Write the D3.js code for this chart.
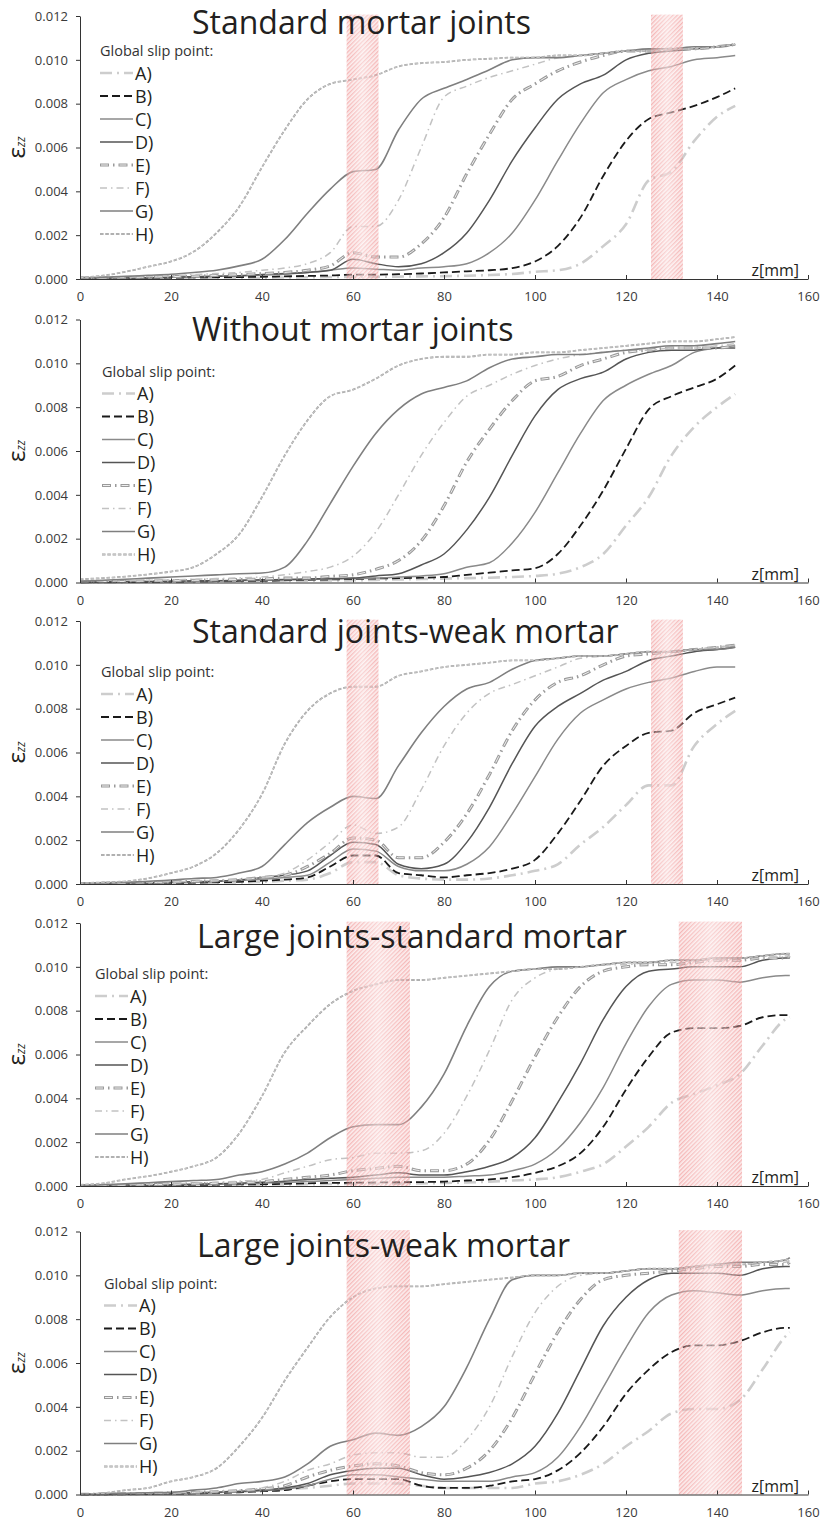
<!DOCTYPE html>
<html><head><meta charset="utf-8">
<script src="https://cdn.jsdelivr.net/npm/d3@7/dist/d3.min.js"></script>
<style>
body{margin:0;background:#fff}
text{font-family:'Open Sans','Noto Sans',sans-serif}
</style>
</head><body>
<svg id="chart" width="823" height="1522"></svg>
<script>
// ---------- data ----------
const zShort = [0,5,10,15,20,25,30,35,40,45,50,55,60,65,70,75,80,85,90,95,100,105,110,115,120,125,130,135,140,144];
const zLong  = [0,5,10,15,20,25,30,35,40,45,50,55,60,65,70,75,80,85,90,95,100,105,110,115,120,125,130,135,140,145,150,155,156];
const seriesNames = ["A)","B)","C)","D)","E)","F)","G)","H)"];
const panelTitles = ["Standard mortar joints","Without mortar joints","Standard joints-weak mortar","Large joints-standard mortar","Large joints-weak mortar"];
const yTickValues = [0,0.002,0.004,0.006,0.008,0.010,0.012];
const xTickValues = [0,20,40,60,80,100,120,140,160];
const jointZones = [
  [[58.6,65.6],[125.5,132.5]],
  [],
  [[58.6,65.6],[125.5,132.5]],
  [[58.6,72.5],[131.6,145.5]],
  [[58.6,72.5],[131.6,145.5]]
];

// Panel 1 - Standard mortar joints
const p1A = [0.00001,0.00002,0.00002,0.00003,0.00003,0.00004,0.00005,0.00005,0.00006,0.00007,0.00008,0.00009,0.0001,0.0001,0.00011,0.00012,0.00013,0.00015,0.00018,0.00023,0.00033,0.0004,0.0007,0.0015,0.0025,0.0045,0.0049,0.0063,0.0074,0.0079];
const p1B = [0.00002,0.00003,0.00004,0.00005,0.00006,0.00007,0.00008,0.00009,0.0001,0.00012,0.00014,0.00016,0.0002,0.0002,0.00022,0.00025,0.0003,0.00035,0.0004,0.0005,0.0008,0.0015,0.0028,0.0047,0.0063,0.0073,0.0076,0.0079,0.0083,0.0087];
const p1C = [0.00003,0.00004,0.00005,0.00006,0.00008,0.0001,0.00012,0.00015,0.00018,0.00022,0.0003,0.0004,0.0005,0.00045,0.0004,0.0005,0.00056,0.0007,0.0012,0.0021,0.0036,0.0054,0.0071,0.0085,0.0091,0.0095,0.0097,0.01,0.0101,0.0102];
const p1D = [0.00003,0.00004,0.00005,0.00006,0.00008,0.0001,0.00012,0.00015,0.0002,0.00025,0.0003,0.0004,0.0009,0.0007,0.00056,0.0007,0.0012,0.0021,0.0036,0.0054,0.0069,0.0082,0.0089,0.0093,0.01,0.0103,0.0104,0.0105,0.0106,0.0107];
const p1E = [0.00004,0.00005,0.00007,0.00009,0.00011,0.00013,0.00016,0.0002,0.00025,0.0003,0.0004,0.0006,0.0012,0.001,0.001,0.0016,0.0028,0.0048,0.0066,0.0082,0.0089,0.0095,0.0099,0.0102,0.0104,0.0104,0.0105,0.0105,0.0106,0.0107];
const p1F = [0.00003,0.00005,0.00008,0.0001,0.00014,0.0002,0.00025,0.0003,0.0004,0.0005,0.0007,0.0012,0.0024,0.0024,0.0036,0.006,0.0083,0.0088,0.0092,0.0095,0.0098,0.0101,0.0102,0.0103,0.0104,0.0104,0.0105,0.0105,0.0106,0.0107];
const p1G = [0.00005,0.00008,0.00012,0.00017,0.00022,0.0003,0.0004,0.0006,0.0009,0.0018,0.003,0.0041,0.0049,0.005,0.0068,0.0082,0.0087,0.0091,0.00955,0.01,0.0101,0.0101,0.0102,0.0103,0.0104,0.0105,0.0105,0.0106,0.0106,0.0107];
const p1H = [0.00006,0.00015,0.00033,0.00056,0.0008,0.00125,0.0021,0.0033,0.0051,0.0068,0.0082,0.0089,0.0091,0.0093,0.0097,0.00985,0.0099,0.01,0.01005,0.0101,0.0101,0.0102,0.0102,0.0103,0.0104,0.0104,0.0105,0.0105,0.0106,0.0107];

// Panel 2 - Without mortar joints
const p2A = [0.00001,0.00001,0.00002,0.00002,0.00003,0.00003,0.00004,0.00005,0.00006,0.00007,0.00008,0.00009,0.0001,0.00012,0.00014,0.00016,0.00018,0.0002,0.00022,0.00025,0.0003,0.0004,0.0007,0.0013,0.0026,0.0039,0.0058,0.0071,0.008,0.0086];
const p2B = [0.00001,0.00002,0.00002,0.00003,0.00004,0.00005,0.00006,0.00007,0.00008,0.0001,0.00012,0.00014,0.00016,0.00018,0.0002,0.00022,0.00025,0.00035,0.00045,0.00055,0.00065,0.0013,0.0026,0.0042,0.0061,0.0079,0.0085,0.0089,0.0093,0.0099];
const p2C = [0.00002,0.00003,0.00004,0.00005,0.00006,0.00007,0.00008,0.00009,0.0001,0.00012,0.00014,0.00016,0.00018,0.0002,0.00025,0.0003,0.0004,0.0007,0.0009,0.0018,0.0032,0.005,0.0068,0.0083,0.009,0.0095,0.0099,0.0105,0.0107,0.0108];
const p2D = [0.00002,0.00003,0.00004,0.00005,0.00006,0.00007,0.00008,0.0001,0.00012,0.00014,0.00016,0.00018,0.0002,0.0003,0.0004,0.0008,0.0013,0.0024,0.0039,0.0058,0.0076,0.0088,0.0093,0.0096,0.0102,0.0105,0.0106,0.0106,0.0107,0.0107];
const p2E = [0.00003,0.00004,0.00005,0.00007,0.00008,0.0001,0.00012,0.00014,0.00016,0.0002,0.0002,0.00028,0.00035,0.0006,0.001,0.0019,0.0035,0.0055,0.007,0.0083,0.0092,0.0094,0.0099,0.0102,0.0105,0.0106,0.0107,0.0107,0.0107,0.0108];
const p2F = [0.00003,0.00005,0.00007,0.0001,0.00012,0.00015,0.00018,0.00021,0.00025,0.00035,0.0005,0.0007,0.0012,0.0023,0.004,0.0058,0.0073,0.0085,0.009,0.0095,0.0099,0.0102,0.0104,0.0105,0.0106,0.0106,0.0107,0.0107,0.0108,0.0109];
const p2G = [0.00005,0.0001,0.00015,0.0002,0.00025,0.0003,0.00035,0.0004,0.00043,0.0007,0.0019,0.0036,0.0053,0.0068,0.0079,0.0086,0.0089,0.0092,0.0098,0.0102,0.0103,0.0104,0.0104,0.0105,0.0106,0.0107,0.0108,0.0108,0.0109,0.011];
const p2H = [0.00015,0.0002,0.00027,0.00037,0.0005,0.0007,0.0013,0.0022,0.0039,0.0058,0.0074,0.0085,0.0088,0.0093,0.0099,0.0102,0.0103,0.0103,0.0104,0.0104,0.0105,0.0105,0.0106,0.0107,0.0108,0.0109,0.011,0.011,0.0111,0.0112];

// Panel 3 - Standard joints-weak mortar
const p3A = [0.00001,0.00001,0.00002,0.00002,0.00003,0.00004,0.00005,0.00007,0.0001,0.00015,0.0002,0.0005,0.001,0.001,0.0004,0.00025,0.0002,0.0002,0.00025,0.0004,0.0006,0.0009,0.0018,0.0026,0.0036,0.0045,0.0045,0.0063,0.0073,0.0079];
const p3B = [0.00001,0.00002,0.00003,0.00004,0.00005,0.00006,0.00008,0.0001,0.00015,0.0002,0.0003,0.0008,0.0013,0.0013,0.0005,0.0004,0.0003,0.0004,0.0005,0.0007,0.0011,0.0023,0.0038,0.0054,0.0063,0.0069,0.007,0.0078,0.0082,0.0085];
const p3C = [0.00002,0.00003,0.00004,0.00005,0.00007,0.00009,0.00012,0.00016,0.00022,0.0003,0.0004,0.001,0.0016,0.0015,0.0008,0.0006,0.0006,0.0009,0.0017,0.0032,0.0049,0.0066,0.0078,0.0084,0.0089,0.0092,0.0094,0.0097,0.0099,0.0099];
const p3D = [0.00002,0.00003,0.00004,0.00006,0.00008,0.0001,0.00013,0.00018,0.0003,0.0004,0.0006,0.0013,0.0019,0.0018,0.0009,0.0007,0.0009,0.0019,0.0035,0.0055,0.0072,0.0081,0.0087,0.0093,0.0097,0.0102,0.0104,0.0106,0.0107,0.0108];
const p3E = [0.00002,0.00003,0.00005,0.00007,0.00009,0.00012,0.00015,0.0002,0.0003,0.0004,0.0008,0.0014,0.0021,0.002,0.0012,0.0012,0.0019,0.0032,0.005,0.007,0.0084,0.0092,0.0095,0.01,0.0104,0.0105,0.0106,0.0107,0.0108,0.0109];
const p3F = [0.00002,0.00004,0.00006,0.00008,0.0001,0.00013,0.00017,0.00022,0.0003,0.0005,0.0011,0.0019,0.0027,0.0023,0.0026,0.0043,0.0063,0.0078,0.0087,0.0091,0.0095,0.0099,0.0103,0.0104,0.0105,0.0106,0.0106,0.0107,0.0108,0.0109];
const p3G = [0.00003,0.00005,0.00008,0.00012,0.00018,0.00025,0.0003,0.0005,0.0008,0.0018,0.0028,0.0035,0.004,0.0039,0.0054,0.0069,0.0081,0.0089,0.0092,0.0098,0.0102,0.0103,0.0104,0.0104,0.0105,0.0106,0.0106,0.0107,0.0107,0.0108];
const p3H = [0.00004,0.00007,0.00012,0.00026,0.0005,0.0008,0.0014,0.0025,0.0041,0.0064,0.0079,0.0087,0.009,0.009,0.0095,0.0097,0.0099,0.01,0.0101,0.0102,0.0102,0.0103,0.0104,0.0104,0.0105,0.0106,0.0106,0.0107,0.0108,0.0109];

// Panel 4 - Large joints-standard mortar
const p4A = [0.00001,0.00001,0.00002,0.00002,0.00003,0.00003,0.00004,0.00005,0.00006,0.00007,0.00008,0.00009,0.0001,0.0001,0.00011,0.00012,0.00014,0.00016,0.0002,0.00025,0.0003,0.0004,0.00065,0.001,0.0018,0.0027,0.0038,0.0042,0.0046,0.0051,0.0064,0.0076,0.0077];
const p4B = [0.00001,0.00002,0.00002,0.00003,0.00004,0.00005,0.00006,0.00007,0.00008,0.0001,0.00012,0.00014,0.00015,0.00016,0.00017,0.00018,0.0002,0.00025,0.0003,0.0004,0.0006,0.0009,0.0015,0.0027,0.0044,0.0059,0.007,0.0072,0.0072,0.0073,0.0077,0.0078,0.0078];
const p4C = [0.00002,0.00003,0.00004,0.00005,0.00006,0.00007,0.00008,0.0001,0.00013,0.00016,0.0002,0.00025,0.0003,0.00035,0.0004,0.0004,0.0004,0.00045,0.0005,0.0007,0.001,0.0017,0.0029,0.0045,0.0065,0.0082,0.0092,0.0094,0.0094,0.0093,0.0095,0.0096,0.0096];
const p4D = [0.00002,0.00003,0.00004,0.00005,0.00006,0.00008,0.0001,0.00013,0.00017,0.00022,0.0003,0.00035,0.0004,0.0005,0.0006,0.0005,0.0005,0.00065,0.0009,0.0013,0.0022,0.0038,0.0056,0.0076,0.0091,0.0098,0.0099,0.01,0.01,0.01,0.0103,0.0104,0.0104];
const p4E = [0.00002,0.00003,0.00004,0.00006,0.00008,0.0001,0.00012,0.00015,0.0002,0.0003,0.0004,0.0005,0.0007,0.0008,0.0009,0.0007,0.0007,0.001,0.0021,0.0039,0.0059,0.0077,0.0091,0.0098,0.01,0.0101,0.0101,0.0102,0.0103,0.0103,0.0104,0.0104,0.0105];
const p4F = [0.00002,0.00004,0.00006,0.00008,0.0001,0.00013,0.00017,0.00022,0.0003,0.0006,0.0009,0.0012,0.0013,0.0015,0.0015,0.0016,0.0024,0.0041,0.0062,0.0085,0.0095,0.0099,0.01,0.0101,0.0101,0.0102,0.0102,0.0103,0.0103,0.0104,0.0104,0.0105,0.0105];
const p4G = [0.00003,0.00006,0.0001,0.00015,0.0002,0.00025,0.0003,0.0005,0.00065,0.001,0.0015,0.0022,0.0027,0.0028,0.0028,0.0036,0.0051,0.0073,0.0091,0.0098,0.0099,0.01,0.01,0.0101,0.0102,0.0102,0.0103,0.0103,0.0104,0.0104,0.0105,0.0106,0.0106];
const p4H = [0.00005,0.00012,0.0003,0.00045,0.00065,0.0009,0.0013,0.0024,0.0041,0.0061,0.0073,0.0083,0.0089,0.0092,0.0094,0.0094,0.0095,0.0096,0.0097,0.0098,0.0099,0.0099,0.01,0.0101,0.0102,0.0102,0.0103,0.0103,0.0104,0.0104,0.0105,0.0106,0.0106];

// Panel 5 - Large joints-weak mortar
const p5A = [0,0.00001,0.00002,0.00003,0.00005,0.00007,0.0001,0.00015,0.0002,0.00025,0.0003,0.0004,0.0005,0.0005,0.0005,0.0004,0.0003,0.0003,0.0003,0.0003,0.0005,0.0006,0.0009,0.0014,0.0022,0.0029,0.0037,0.0039,0.0039,0.0043,0.0057,0.0072,0.0074];
const p5B = [0.00001,0.00001,0.00002,0.00003,0.00004,0.00005,0.00007,0.0001,0.00015,0.0002,0.0004,0.0006,0.0007,0.0007,0.0007,0.0004,0.0003,0.0003,0.0004,0.0006,0.0007,0.0011,0.0019,0.0031,0.0046,0.0057,0.0065,0.0068,0.0068,0.007,0.0074,0.0076,0.0076];
const p5C = [0.00001,0.00002,0.00003,0.00004,0.00005,0.00007,0.00009,0.00012,0.00017,0.00025,0.0004,0.0007,0.0009,0.0009,0.0008,0.0007,0.0006,0.0006,0.0006,0.0008,0.001,0.0017,0.0031,0.0049,0.0067,0.0083,0.0091,0.0093,0.0092,0.0091,0.0093,0.0094,0.0094];
const p5D = [0.00001,0.00002,0.00003,0.00004,0.00006,0.00008,0.0001,0.00015,0.0002,0.0003,0.0005,0.0009,0.0011,0.0012,0.0012,0.0009,0.0007,0.0008,0.001,0.0014,0.0022,0.0037,0.0057,0.0077,0.009,0.0098,0.0101,0.0101,0.0101,0.01,0.0103,0.0104,0.0104];
const p5E = [0.00001,0.00002,0.00003,0.00005,0.00007,0.0001,0.00013,0.00018,0.00025,0.0004,0.0008,0.0011,0.0013,0.0014,0.0013,0.001,0.0009,0.0012,0.002,0.0035,0.0055,0.0074,0.0089,0.0098,0.01,0.0101,0.0102,0.0103,0.0104,0.0104,0.0105,0.0105,0.0106];
const p5F = [0.00001,0.00002,0.00004,0.00006,0.00008,0.0001,0.00014,0.0002,0.0003,0.0006,0.0011,0.0014,0.0018,0.0019,0.0019,0.0017,0.0017,0.0025,0.004,0.0063,0.0083,0.0095,0.01,0.0101,0.0102,0.0103,0.0103,0.0104,0.0105,0.0105,0.0106,0.0106,0.0107];
const p5G = [0.00002,0.00004,0.00006,0.00008,0.0001,0.0002,0.0003,0.0005,0.0006,0.0008,0.0014,0.0022,0.0025,0.0028,0.0027,0.0031,0.004,0.0058,0.008,0.0098,0.01,0.01,0.0101,0.0101,0.0102,0.0103,0.0103,0.0104,0.0105,0.0106,0.0106,0.0107,0.0108];
const p5H = [0,0.00005,0.0002,0.0003,0.0006,0.0008,0.0012,0.0022,0.0035,0.0052,0.0067,0.0081,0.009,0.0094,0.0095,0.0095,0.0096,0.0097,0.0098,0.0099,0.01,0.01,0.0101,0.0101,0.0102,0.0103,0.0103,0.0104,0.0105,0.0105,0.0106,0.0107,0.0108];

const panelData = [
  {z: zShort, series: [p1A,p1B,p1C,p1D,p1E,p1F,p1G,p1H]},
  {z: zShort, series: [p2A,p2B,p2C,p2D,p2E,p2F,p2G,p2H]},
  {z: zShort, series: [p3A,p3B,p3C,p3D,p3E,p3F,p3G,p3H]},
  {z: zLong,  series: [p4A,p4B,p4C,p4D,p4E,p4F,p4G,p4H]},
  {z: zLong,  series: [p5A,p5B,p5C,p5D,p5E,p5F,p5G,p5H]}
];

// ---------- layout & styles ----------
const layout = [
  {top:16,    titleX:192, titleDy:18, legX:100, legDy:57},
  {top:319.5, titleX:192, titleDy:21, legX:102, legDy:74},
  {top:621,   titleX:192, titleDy:22, legX:101, legDy:73},
  {top:923,   titleX:197, titleDy:25, legX:95,  legDy:73},
  {top:1231.5,titleX:197, titleDy:25, legX:104, legDy:74}
];
const plotH = 263, left = 80, right = 808;
const styles = [
  [{stroke:"#cdcdcd", w:2.6, dash:"12 5 2 5"}],
  [{stroke:"#1a1a1a", w:1.8, dash:"8 4"}],
  [{stroke:"#8a8a8a", w:1.5, dash:null}],
  [{stroke:"#555555", w:1.5, dash:null}],
  [{stroke:"#9a9a9a", w:3, dash:"9 4 1.5 4"},{stroke:"#efefef", w:1, dash:"0 1 7 10.5"}],
  [{stroke:"#c2c2c2", w:1.5, dash:"7 4 1.5 4"}],
  [{stroke:"#7f7f7f", w:1.6, dash:null}],
  [{stroke:"#9c9c9c", w:1.8, dash:"3.5 1.8"},{stroke:"#e2e2e2", w:0.6, dash:"3.5 1.8"}]
];

const svg = d3.select("#chart");
const defs = svg.append("defs");
const pat = defs.append("pattern").attr("id","hatch").attr("patternUnits","userSpaceOnUse")
  .attr("width",3).attr("height",3).attr("patternTransform","rotate(45)");
pat.append("rect").attr("width",3).attr("height",3).attr("fill","rgba(246,190,190,0.28)");
pat.append("line").attr("x1",0.75).attr("y1",0).attr("x2",0.75).attr("y2",3)
  .attr("stroke","rgba(235,115,115,0.62)").attr("stroke-width",1);
const grad = defs.append("linearGradient").attr("id","shine").attr("x1","0").attr("x2","1").attr("y1","0").attr("y2","0");
grad.append("stop").attr("offset","0%").attr("stop-color","#fff").attr("stop-opacity",0);
grad.append("stop").attr("offset","50%").attr("stop-color","#fff").attr("stop-opacity",0.45);
grad.append("stop").attr("offset","100%").attr("stop-color","#fff").attr("stop-opacity",0);

const x = d3.scaleLinear().domain([0,160]).range([left,right]);

panelData.forEach((pd, i) => {
  const L = layout[i];
  const y = d3.scaleLinear().domain([0,0.012]).range([L.top+plotH, L.top]);
  const g = svg.append("g");

  // lines
  const line = d3.line().x(d=>x(d[0])).y(d=>y(d[1])).curve(d3.curveMonotoneX);
  pd.series.forEach((vals, si) => {
    const pts = pd.z.map((z,k)=>[z, vals[k]]);
    styles[si].forEach(s => {
      g.append("path").attr("d", line(pts)).attr("fill","none")
        .attr("stroke", s.stroke).attr("stroke-width", s.w)
        .attr("stroke-dasharray", s.dash).attr("stroke-linejoin","round");
    });
  });

  // joint zones (hatched)
  jointZones[i].forEach(zz => {
    const rx = x(zz[0]), rw = x(zz[1]) - x(zz[0]);
    const ry = y(0.01206), rh = y(0) - y(0.01206);
    g.append("rect").attr("x",rx).attr("y",ry).attr("width",rw).attr("height",rh).attr("fill","url(#hatch)");
    g.append("rect").attr("x",rx).attr("y",ry).attr("width",rw).attr("height",rh).attr("fill","url(#shine)");
  });

  // axes
  const ya = g.append("g").attr("transform",`translate(${left},0)`)
    .call(d3.axisLeft(y).tickValues(yTickValues).tickFormat(d3.format(".3f")).tickSizeInner(4).tickSizeOuter(0).tickPadding(8));
  const xa = g.append("g").attr("transform",`translate(0,${L.top+plotH})`)
    .call(d3.axisBottom(x).tickValues(xTickValues).tickFormat(d3.format("d")).tickSizeInner(-4).tickSizeOuter(0).tickPadding(13));
  [ya,xa].forEach(a => {
    a.selectAll("path,line").attr("stroke","#333");
    a.selectAll("text").attr("fill","#3a3a3a").style("font-size","13px").style("font-family","'Open Sans',sans-serif");
  });

  // axis labels
  g.append("text").attr("x", right-9).attr("y", L.top+plotH-3).attr("text-anchor","end")
    .attr("fill","#231f20").style("font-size","16px").text("z[mm]");
  const yl = g.append("text").attr("transform",`translate(25,${L.top+plotH/2}) rotate(-90)`)
    .attr("text-anchor","middle").attr("fill","#231f20");
  yl.append("tspan").style("font-size","24px").text("ε");
  yl.append("tspan").style("font-size","12px").style("font-style","italic").text("zz");

  // title
  g.append("text").attr("x", L.titleX).attr("y", L.top+L.titleDy).attr("fill","#231f20")
    .style("font-size","32px").text(panelTitles[i]);

  // legend
  const ly0 = L.top + L.legDy;
  g.append("text").attr("x", L.legX).attr("y", ly0-17).attr("fill","#333")
    .style("font-size","14.5px").text("Global slip point:");
  seriesNames.forEach((nm, si) => {
    const ly = ly0 + si*23;
    styles[si].forEach(s => {
      g.append("line").attr("x1",L.legX).attr("x2",L.legX+33).attr("y1",ly).attr("y2",ly)
        .attr("stroke",s.stroke).attr("stroke-width",s.w).attr("stroke-dasharray",s.dash);
    });
    g.append("text").attr("x",L.legX+35).attr("y",ly+6.5).attr("fill","#231f20")
      .style("font-size","18px").text(nm);
  });
});
</script>
</body></html>
